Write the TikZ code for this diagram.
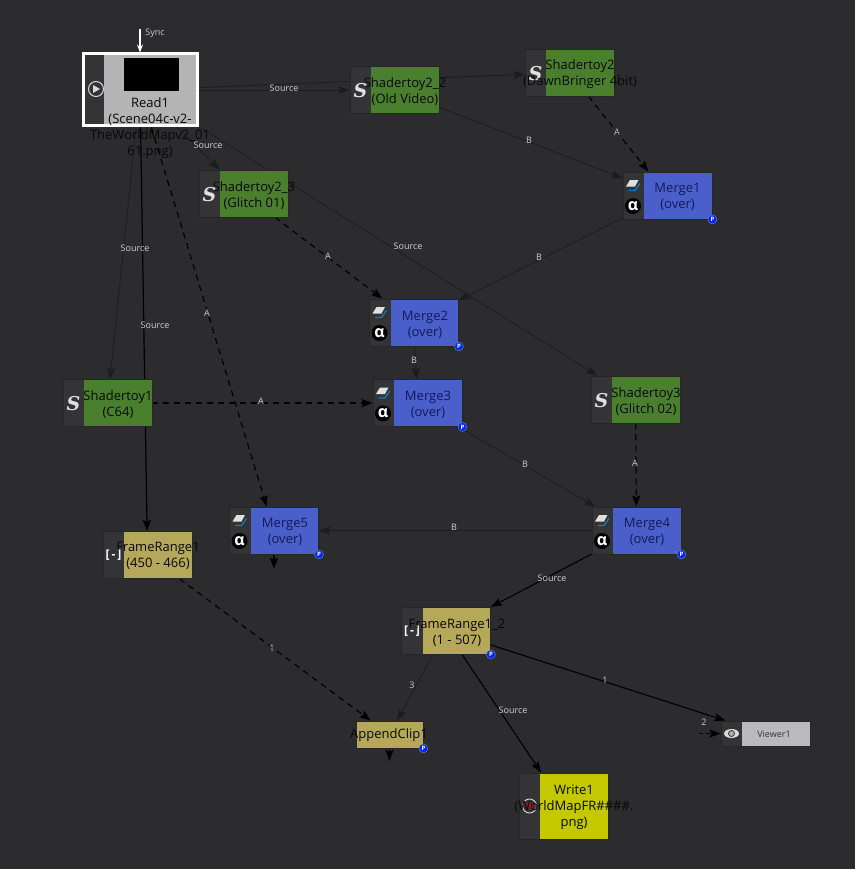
\documentclass[tikz,border=0pt]{standalone}
\usepackage{fontspec}
\setmainfont{Open Sans}
\newfontfamily\iconfont{DejaVu Serif}
\usepackage{tikz}
\usetikzlibrary{arrows.meta}
\usetikzlibrary{backgrounds}
\usetikzlibrary{shapes.geometric}
\definecolor{bgdark}{HTML}{2C2B2D}
\definecolor{stripdark}{HTML}{343335}
\definecolor{shadergreen}{HTML}{4A7F2E}
\definecolor{mergeblue}{HTML}{4A5FC9}
\definecolor{rangekhaki}{HTML}{B5A85A}
\definecolor{writeyellow}{HTML}{C4C800}
\definecolor{readgrey}{HTML}{B4B4B4}
\definecolor{viewergrey}{HTML}{BABABE}
\definecolor{faintline}{HTML}{1D1D1E}
\definecolor{lblgrey}{HTML}{CFCFCF}

\begin{document}
\begin{tikzpicture}[
		x=1pt, y=-1pt,
		opbox/.style={rectangle, draw=black!85, line width=0.8pt, minimum width=89pt, minimum height=47pt, inner sep=0pt,
				path picture={\fill[stripdark] (path picture bounding box.south west) rectangle ([xshift=21pt]path picture bounding box.north west);}},
		optext/.style={font=\fontsize{13}{16}\selectfont, align=center, text=black!97, inner sep=0pt, yshift=-1.5pt},
		navytext/.style={optext, text={rgb,255:red,16;green,26;blue,90}},
		edgelbl/.style={font=\fontsize{9}{10}\selectfont, text=lblgrey, inner sep=0pt},
		strong/.style={draw=black, line width=1.2pt, -{Stealth[length=11pt,width=8pt,inset=1.5pt]}},
		weak/.style={draw=faintline, line width=0.8pt, -{Stealth[length=11pt,width=8pt,inset=1.5pt]}},
		dashedge/.style={strong, dash pattern=on 6pt off 5pt},
		sicon/.style={font=\iconfont\bfseries\itshape\fontsize{19}{19}\selectfont, text=white!88!black, inner sep=0pt},
		bracketicon/.style={font=\bfseries\fontsize{12}{12}\selectfont, text=white, inner sep=0pt}
	]

	\useasboundingbox (0,0) rectangle (855,869);

	% --- Top row ---
	\node[opbox, draw=white, line width=3pt, minimum width=114pt, minimum height=72pt, fill=readgrey,
		path picture={\fill[stripdark] (path picture bounding box.south west) rectangle ([xshift=21pt]path picture bounding box.north west);}] (read) at (140,90) {};
	\node[fill=black, minimum width=55pt, minimum height=33pt, inner sep=0pt] (readthumb) at (151.5,74.5) {};
	\node[circle, draw=white!85!black, line width=1pt, minimum size=15pt, inner sep=0pt] (readplay) at (96,89) {};
	\fill[white!85!black] (93,85) -- (100,89) -- (93,93) -- cycle;
	\node[optext] (readtxt) at (150,126.5) {Read1\\(Scene04c-v2-\\TheWorldMapv2\_01\\61.png)};

	\node[opbox, fill=shadergreen] (shader22) at (394.5,90) {};
	\node[sicon] (shader22ic) at (360.5,91) {S};
	\node[optext] (shader22txt) at (405,90.5) {Shadertoy2\_2\\(Old Video)};

	\node[opbox, fill=shadergreen] (shader2) at (569.5,72.5) {};
	\node[sicon] (shader2ic) at (535.5,73.5) {S};
	\node[optext] (shader2txt) at (580,73) {Shadertoy2\\(DawnBringer 4bit)};

	\node[opbox, fill=shadergreen] (shader23) at (243.5,193.5) {};
	\node[sicon] (shader23ic) at (209.5,194.5) {S};
	\node[optext] (shader23txt) at (254,194) {Shadertoy2\_3\\(Glitch 01)};

	\node[opbox, fill=mergeblue] (merge1) at (667.5,195.5) {};
	\node[navytext] (merge1txt) at (677.5,195) {Merge1\\(over)};

	% --- Middle rows ---
	\node[opbox, fill=mergeblue] (merge2) at (414,322.5) {};
	\node[navytext] (merge2txt) at (425,323) {Merge2\\(over)};

	\node[opbox, fill=mergeblue] (merge3) at (417.5,403) {};
	\node[navytext] (merge3txt) at (428,403) {Merge3\\(over)};

	\node[opbox, fill=shadergreen] (shader1) at (107.5,403) {};
	\node[sicon] (shader1ic) at (73.5,404) {S};
	\node[optext] (shader1txt) at (118,403) {Shadertoy1\\(C64)};

	\node[opbox, fill=shadergreen] (shader3) at (635.5,399.5) {};
	\node[sicon] (shader3ic) at (601.5,400.5) {S};
	\node[optext] (shader3txt) at (646,400) {Shadertoy3\\(Glitch 02)};

	\node[opbox, fill=mergeblue] (merge4) at (636.5,530.5) {};
	\node[navytext] (merge4txt) at (647,530) {Merge4\\(over)};

	\node[opbox, fill=mergeblue] (merge5) at (274,530.5) {};
	\node[navytext] (merge5txt) at (285,530) {Merge5\\(over)};

	% --- Bottom rows ---
	\node[opbox, fill=rangekhaki] (range1) at (147.5,555) {};
	\node[bracketicon] (range1ic) at (113.5,555) {[\,-\,]};
	\node[optext] (range1txt) at (158,554.5) {FrameRange1\\(450 - 466)};

	\node[opbox, fill=rangekhaki] (range12) at (446,630.5) {};
	\node[bracketicon] (range12ic) at (412,631) {[\,-\,]};
	\node[optext] (range12txt) at (457,631) {FrameRange1\_2\\(1 - 507)};

	\node[rectangle, draw=black!85, line width=0.8pt, fill=rangekhaki, minimum width=67pt, minimum height=27pt, inner sep=0pt] (append) at (389.5,734.5) {};
	\node[optext] (appendtxt) at (389,734) {AppendClip1};

	\node[opbox, fill=viewergrey, minimum height=25pt] (viewer) at (765.5,733.5) {};
	\node[ellipse, fill=white!85!black, minimum width=15pt, minimum height=9pt, inner sep=0pt] (viewereye) at (731.5,733.5) {};
	\node[circle, draw=stripdark, line width=0.8pt, fill=white!70!black, minimum size=6pt, inner sep=0pt] (viewerpupil) at (731.5,733.5) {};
	\node[optext, font=\fontsize{9}{10}\selectfont, text=black!80, yshift=1.5pt] (viewertxt) at (774,734) {Viewer1};

	\node[opbox, fill=writeyellow, minimum height=66pt] (write) at (563.5,806) {};
	\node[circle, draw=white!85!black, line width=0.9pt, fill=stripdark, minimum size=14pt, inner sep=0pt, text=red, font=\bfseries\fontsize{9}{9}\selectfont] (writeic) at (529.5,806) {W};
	\node[optext] (writetxt) at (574,805.5) {Write1\\(WorldMapFR\#\#\#\#.\\png)};

	% --- Merge icons and badges ---
	\foreach \n in {merge1,merge2,merge3,merge4,merge5} {
			\begin{scope}[shift={(\n.center)}]
				\fill[white!88!black] (-41.5,-9) -- (-37.5,-15.5) -- (-29,-15.5) -- (-32.5,-9) -- cycle;
				\draw[cyan!60!blue, line width=1.2pt] (-39,-5) -- (-32.5,-5) -- (-27.5,-12);
				\node[circle, fill=black, minimum size=16pt, inner sep=0pt, text=white, font=\bfseries\fontsize{16}{16}\selectfont] (\n alpha) at (-34.5,10.5) {α};
			\end{scope}
		}
	\foreach \n in {merge1,merge2,merge3,merge4,merge5,range12,append} {
			\node[circle, fill=blue!85!cyan, draw=black!40, line width=0.3pt, minimum size=9pt, inner sep=0pt, text=white, font=\bfseries\fontsize{6}{6}\selectfont] (\n badge) at (\n.south east) {P};
		}

	% --- Free ends ---
	\coordinate (syncend) at (140,29);
	\coordinate (merge5out) at (274,569);
	\coordinate (appendout) at (389.5,761);
	\coordinate (viewerin) at (699,733.5);

	% --- Connectors ---
	\begin{pgfonlayer}{background}
		\fill[bgdark] (0,0) rectangle (855,869);
		\draw[weak] (read) -- (shader22);
		\draw[weak] (read) -- (shader2);
		\draw[weak] (read) -- (shader23);
		\draw[weak] (read) -- (shader3);
		\draw[weak] (read) -- (shader1);
		\draw[strong] (read) -- (range1);
		\draw[dashedge] (read) -- (merge5);
		\draw[dashedge] (shader2) -- (merge1);
		\draw[weak] (shader22) -- (merge1);
		\draw[dashedge] (shader23) -- (merge2);
		\draw[weak] (merge1) -- (merge2);
		\draw[weak] (merge2) -- (merge3);
		\draw[dashedge] (shader1) -- (merge3);
		\draw[weak] (merge3) -- (merge4);
		\draw[dashedge] (shader3) -- (merge4);
		\draw[weak] (merge4) -- (merge5);
		\draw[strong] (merge4) -- (range12);
		\draw[dashedge] (range1) -- (append);
		\draw[weak] (range12) -- (append);
		\draw[strong] (range12) -- (viewer);
		\draw[strong] (range12) -- (write);
		\draw[dashedge, dash pattern=on 4pt off 3pt] (viewerin) -- (viewer);
		\draw[strong] (merge5) -- (merge5out);
		\draw[strong] (append) -- (appendout);
		\draw[draw=white, line width=1.2pt, -{Stealth[length=8pt,width=6pt]}] (syncend) -- (read);
	\end{pgfonlayer}

	% --- Connector labels ---
	\node[edgelbl] (lblsync) at (155,33) {Sync};
	\node[edgelbl] (lblsrc1) at (284,88) {Source};
	\node[edgelbl] (lblsrc2) at (208,145) {Source};
	\node[edgelbl] (lblsrc3) at (408,246) {Source};
	\node[edgelbl] (lblsrc4) at (135,248) {Source};
	\node[edgelbl] (lblsrc5) at (155,325) {Source};
	\node[edgelbl] (lblsrc6) at (552,578) {Source};
	\node[edgelbl] (lblsrc7) at (513,710) {Source};
	\node[edgelbl] (lblb1) at (529,140) {B};
	\node[edgelbl] (lbla1) at (617,132) {A};
	\node[edgelbl] (lbla2) at (328,256) {A};
	\node[edgelbl] (lblb2) at (539,257) {B};
	\node[edgelbl] (lbla3) at (207,313) {A};
	\node[edgelbl] (lblb3) at (414,360) {B};
	\node[edgelbl] (lbla4) at (261,401) {A};
	\node[edgelbl] (lblb4) at (525,464) {B};
	\node[edgelbl] (lbla5) at (635,463) {A};
	\node[edgelbl] (lblb5) at (454,527) {B};
	\node[edgelbl] (lbl1a) at (272,648) {1};
	\node[edgelbl] (lbl3) at (412,685) {3};
	\node[edgelbl] (lbl1b) at (605,680) {1};
	\node[edgelbl] (lbl2) at (704,722) {2};

\end{tikzpicture}
\end{document}
